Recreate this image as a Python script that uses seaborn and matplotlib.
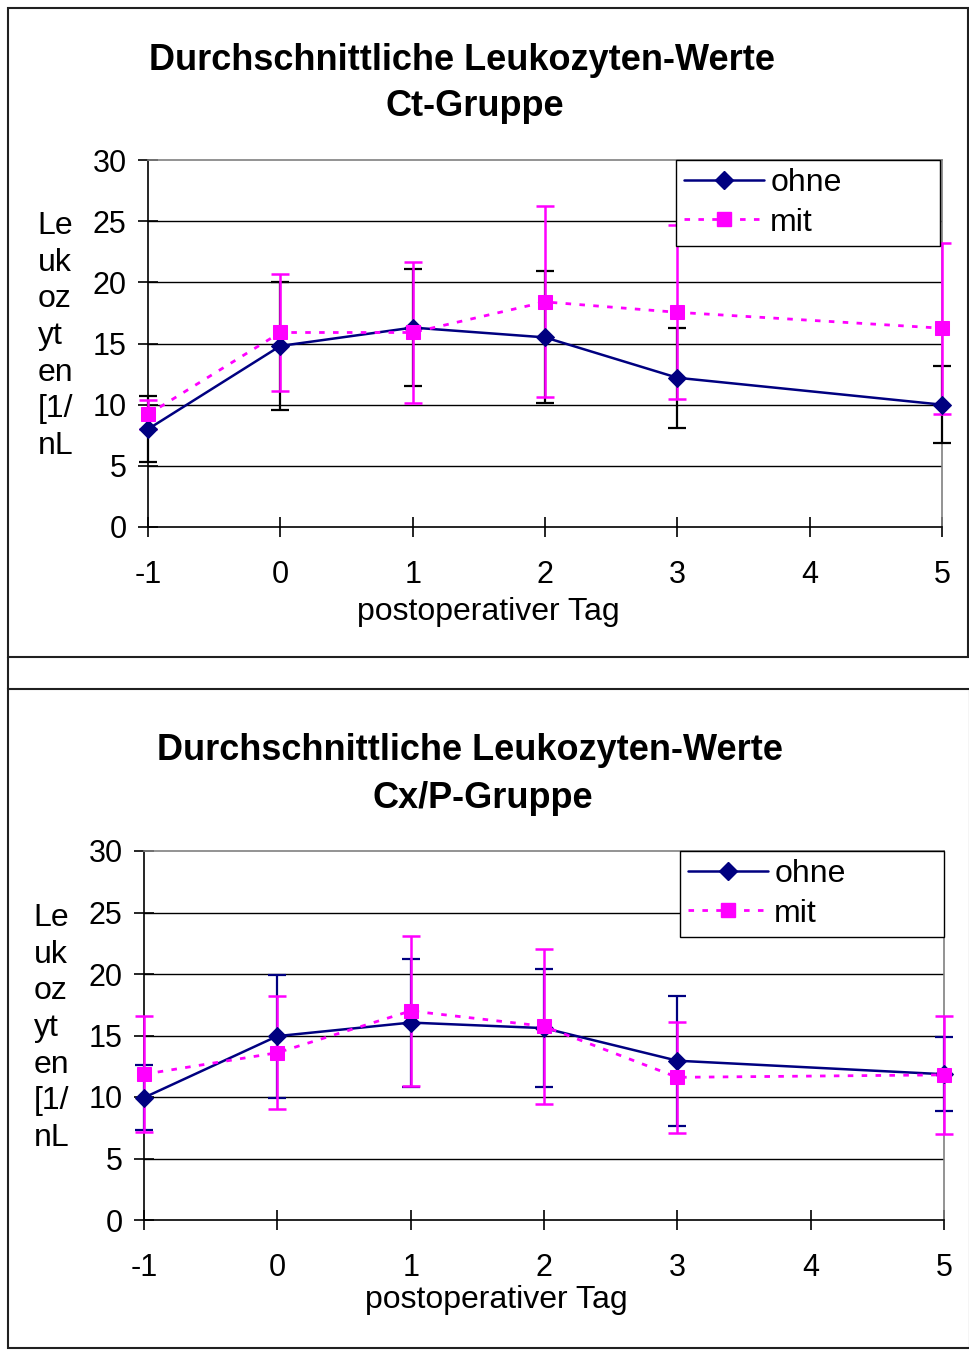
import numpy as np
import pandas as pd
import matplotlib
matplotlib.use("Agg")
import matplotlib.pyplot as plt
import seaborn as sns
from matplotlib.patches import Rectangle
from matplotlib.lines import Line2D

# Data (mean and standard deviation per day)
days = [-1, 0, 1, 2, 3, 5]

ct_ohne = [8.0, 14.8, 16.3, 15.5, 12.2, 10.0]
ct_ohne_sd = [2.7, 5.2, 4.8, 5.4, 4.1, 3.15]
ct_mit = [9.2, 15.9, 15.9, 18.4, 17.55, 16.25]
ct_mit_sd = [1.2, 4.75, 5.75, 7.8, 7.1, 7.0]

cx_ohne = [9.95, 14.95, 16.05, 15.6, 12.95, 11.85]
cx_ohne_sd = [2.65, 5.0, 5.2, 4.8, 5.3, 3.0]
cx_mit = [11.85, 13.6, 17.0, 15.75, 11.6, 11.8]
cx_mit_sd = [4.7, 4.6, 6.1, 6.3, 4.5, 4.8]

titles = ["Durchschnittliche Leukozyten-Werte", "Ct-Gruppe", "Cx/P-Gruppe"]
ylabel = "Le\nuk\noz\nyt\nen\n[1/\nnL"
xlabel = "postoperativer Tag"

NAVY = "#000080"
MAGENTA = "#FF00FF"

sns.set_style("white")
plt.rcParams['font.family'] = ['Liberation Sans', 'DejaVu Sans']
plt.rcParams['axes.unicode_minus'] = False
plt.rcParams['text.color'] = 'black'
plt.rcParams['axes.labelcolor'] = 'black'
plt.rcParams['xtick.color'] = 'black'
plt.rcParams['ytick.color'] = 'black'

W, H = 970, 1350
fig = plt.figure(figsize=(W / 100, H / 100), dpi=100)

FS = 22


def px_rect(x0, y0, x1, y1):
    return [x0 / W, 1 - y1 / H, (x1 - x0) / W, (y1 - y0) / H]


def draw_panel(ax, ohne, ohne_sd, mit, mit_sd, ohne_err_color, leg_box):
    df = pd.DataFrame({"tag": days, "ohne": ohne, "mit": mit})
    ax.errorbar(days, ohne, yerr=ohne_sd, fmt="none", ecolor=ohne_err_color,
                elinewidth=1.6, capsize=6.5, capthick=1.6, clip_on=False, zorder=3)
    ax.errorbar(days, mit, yerr=mit_sd, fmt="none", ecolor=MAGENTA,
                elinewidth=1.8, capsize=6.5, capthick=1.8, clip_on=False, zorder=4)
    sns.lineplot(data=df, x="tag", y="ohne", ax=ax, color=NAVY, lw=1.8,
                 marker="D", markersize=9, markeredgecolor=NAVY,
                 errorbar=None, clip_on=False, zorder=5)
    sns.lineplot(data=df, x="tag", y="mit", ax=ax, color=MAGENTA, lw=2.0,
                 linestyle=(0, (2, 3)), marker="s", markersize=10,
                 markeredgecolor=MAGENTA, errorbar=None, clip_on=False, zorder=6)

    ax.set_xlim(-1, 5)
    ax.set_ylim(0, 30)
    ax.set_xticks(range(-1, 6))
    ax.set_yticks(range(0, 31, 5))
    for y in range(5, 30, 5):
        ax.axhline(y, color="black", lw=1.0, zorder=1)
    for s in ["left", "bottom"]:
        ax.spines[s].set_color("black")
        ax.spines[s].set_linewidth(1.2)
    for s in ["top", "right"]:
        ax.spines[s].set_color("#808080")
        ax.spines[s].set_linewidth(1.2)
    ax.tick_params(axis="y", direction="inout", length=15, width=1.2,
                   labelsize=FS, pad=8, left=True)
    ax.tick_params(axis="x", direction="inout", length=15, width=1.2,
                   labelsize=FS, pad=16, bottom=True)
    ax.set_xlabel(xlabel, fontsize=FS + 1, labelpad=6)
    ax.set_ylabel(ylabel, fontsize=FS + 1, rotation=0, ha="left", va="center",
                  linespacing=1.29)

    handles = [
        Line2D([], [], color=NAVY, lw=1.8, marker="D", markersize=9),
        Line2D([], [], color=MAGENTA, lw=2.0, linestyle=(0, (2, 3)),
               marker="s", markersize=10),
    ]
    leg = ax.legend(handles, ["ohne", "mit"], loc="upper left",
                    bbox_to_anchor=leg_box, mode="expand",
                    fontsize=FS + 1, frameon=True,
                    fancybox=False, edgecolor="black", framealpha=1,
                    borderpad=0.25, handlelength=2.5, handletextpad=0.2,
                    labelspacing=0.3, borderaxespad=0)
    leg.get_frame().set_linewidth(1.0)
    leg.set_zorder(10)
    return leg


# top panel
ax1 = fig.add_axes(px_rect(148, 160, 942, 527))
draw_panel(ax1, ct_ohne, ct_ohne_sd, ct_mit, ct_mit_sd, "black",
           (0.665, 0.0, 0.3325, 1.0))
ax1.yaxis.set_label_coords(-0.139, 0.52)
ax1.xaxis.set_label_coords(0.428, -0.19)

# bottom panel
ax2 = fig.add_axes(px_rect(144, 851, 944, 1220))
draw_panel(ax2, cx_ohne, cx_ohne_sd, cx_mit, cx_mit_sd, NAVY,
           (0.67, 0.0, 0.33, 1.0))
ax2.yaxis.set_label_coords(-0.138, 0.52)
ax2.xaxis.set_label_coords(0.44, -0.176)

# titles
TFS = 26
fig.text(462 / W, 1 - 60 / H, titles[0], ha="center", va="center",
         fontsize=TFS, fontweight="bold")
fig.text(475 / W, 1 - 107 / H, titles[1], ha="center", va="center",
         fontsize=TFS, fontweight="bold")
fig.text(470 / W, 1 - 750 / H, titles[0], ha="center", va="center",
         fontsize=TFS, fontweight="bold")
fig.text(483 / W, 1 - 798 / H, titles[2], ha="center", va="center",
         fontsize=TFS, fontweight="bold")

# chart borders
fig.add_artist(Rectangle((8 / W, 1 - 657 / H), 960 / W, 649 / H,
                         transform=fig.transFigure, fill=False,
                         edgecolor="#202020", lw=1.5))
fig.add_artist(Rectangle((8 / W, 1 - 1348 / H), 962 / W, 659 / H,
                         transform=fig.transFigure, fill=False,
                         edgecolor="#202020", lw=1.5))
fig.add_artist(Line2D([8 / W, 8 / W], [1 - 689 / H, 1 - 657 / H],
                      transform=fig.transFigure, color="#202020", lw=1.5))

fig.savefig("out.png", dpi=100, facecolor="white")
